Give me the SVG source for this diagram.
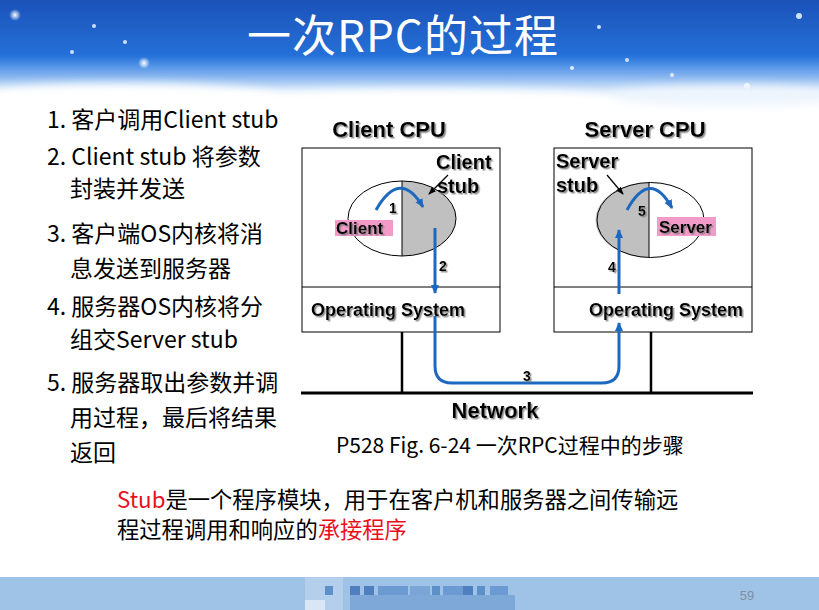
<svg xmlns="http://www.w3.org/2000/svg" width="819" height="610" viewBox="0 0 819 610">
<defs>
<linearGradient id="sky" x1="0" y1="0" x2="0" y2="1">
<stop offset="0" stop-color="#1b52b8"/>
<stop offset="0.55" stop-color="#2470d8"/>
<stop offset="0.62" stop-color="#3f86e2"/>
<stop offset="0.75" stop-color="#7fb0ee"/>
<stop offset="0.9" stop-color="#d6e7fa"/>
<stop offset="1" stop-color="#ffffff"/>
</linearGradient>
<radialGradient id="star"><stop offset="0" stop-color="#fff"/><stop offset="1" stop-color="#fff" stop-opacity="0"/></radialGradient>
<filter id="blur" x="-20%" y="-50%" width="140%" height="200%"><feGaussianBlur stdDeviation="5"/></filter>
<filter id="sh" x="-10%" y="-20%" width="130%" height="150%"><feDropShadow dx="1.5" dy="1.5" stdDeviation="0.7" flood-color="#777" flood-opacity="0.8"/></filter>
<marker id="ab" markerWidth="10" markerHeight="10" refX="8" refY="5" orient="auto" markerUnits="userSpaceOnUse"><path d="M0,1 L9,5 L0,9 Z" fill="#1d69c0"/></marker>
<marker id="ak" markerWidth="8" markerHeight="8" refX="7" refY="4" orient="auto" markerUnits="userSpaceOnUse"><path d="M0,1 L8,4 L0,7 Z" fill="#000"/></marker>
<style>
.lbl{font-family:"Liberation Sans",Arial,sans-serif;font-weight:bold;fill:#000;filter:url(#sh)}
.cjk{font-family:"Noto Sans CJK SC","Microsoft YaHei",sans-serif;fill:#000}
.box{fill:#fff;stroke:#000;stroke-width:1}
.blue{fill:none;stroke:#1d69c0;stroke-width:3}
.wire{stroke:#000;stroke-width:2.5}
.red{fill:#e8101a}
</style>
</defs>
<rect width="819" height="610" fill="#fff"/>
<g id="header">
<rect x="0" y="0" width="819" height="100" fill="url(#sky)"/>
<ellipse cx="120" cy="98" rx="160" ry="14" fill="#fff" filter="url(#blur)"/>
<ellipse cx="420" cy="100" rx="200" ry="10" fill="#fff" filter="url(#blur)"/>
<ellipse cx="730" cy="96" rx="120" ry="10" fill="#eef5fd" filter="url(#blur)"/>
<circle cx="15" cy="15" r="6" fill="url(#star)"/>
<circle cx="144" cy="63" r="6" fill="url(#star)"/>
<circle cx="94" cy="26" r="2" fill="#cfe0ff"/>
<circle cx="125" cy="42" r="2" fill="#cfe0ff"/>
<circle cx="72" cy="52" r="2" fill="#cfe0ff"/>
<circle cx="599" cy="27" r="2" fill="#cfe0ff"/>
<circle cx="627" cy="60" r="2" fill="#cfe0ff"/>
<circle cx="572" cy="68" r="2" fill="#dfeaff"/>
<circle cx="672" cy="75" r="2" fill="#dfeaff"/>
<circle cx="799" cy="16" r="3" fill="#cfe0ff"/>
<circle cx="747" cy="86" r="3" fill="#eef5ff"/>
<text x="403" y="52" text-anchor="middle" font-family="Noto Sans CJK SC, sans-serif" font-size="44" letter-spacing="1" fill="#fff">一次RPC的过程</text>
</g>
<g id="steps" class="cjk" font-size="23">
<text x="47" y="128">1. 客户调用Client stub</text>
<text x="47" y="165">2. Client stub 将参数</text>
<text x="70" y="197">封装并发送</text>
<text x="47" y="242">3. 客户端OS内核将消</text>
<text x="70" y="277">息发送到服务器</text>
<text x="47" y="315">4. 服务器OS内核将分</text>
<text x="70" y="348">组交Server stub</text>
<text x="47" y="391">5. 服务器取出参数并调</text>
<text x="70" y="426">用过程，最后将结果</text>
<text x="70" y="461">返回</text>
</g>
<g id="client-cpu">
<text class="lbl" x="389" y="137" font-size="22" text-anchor="middle">Client CPU</text>
<rect class="box" x="302" y="148" width="198" height="184"/>
<line x1="302" y1="287" x2="500" y2="287" stroke="#000" stroke-width="1"/>
<g id="client-process">
<path d="M402,181 A54,37.5 0 0 1 402,256 Z" fill="#c0c0c0"/>
<ellipse cx="402" cy="218.5" rx="54" ry="37.5" fill="none" stroke="#000" stroke-width="1"/>
<line x1="402" y1="181" x2="402" y2="256" stroke="#000" stroke-width="1"/>
<rect x="335" y="220" width="58" height="16" fill="#f29ac8"/>
<text class="lbl" x="336" y="234" font-size="17">Client</text>
</g>
<text class="lbl" x="436" y="169" font-size="20">Client</text>
<text class="lbl" x="437" y="193" font-size="20">stub</text>
<text class="lbl" x="311" y="316" font-size="18">Operating System</text>
</g>
<g id="server-cpu">
<text class="lbl" x="645" y="137" font-size="22" text-anchor="middle">Server CPU</text>
<rect class="box" x="554" y="148" width="198" height="184"/>
<line x1="554" y1="287" x2="752" y2="287" stroke="#000" stroke-width="1"/>
<g id="server-process">
<path d="M649,182.5 A53.5,37.5 0 0 0 649,257.5 Z" fill="#c0c0c0"/>
<ellipse cx="650.5" cy="220" rx="53.5" ry="37.5" fill="none" stroke="#000" stroke-width="1"/>
<line x1="649" y1="182.5" x2="649" y2="257.5" stroke="#000" stroke-width="1"/>
<rect x="657" y="217" width="59" height="19" fill="#f29ac8"/>
<text class="lbl" x="659" y="233" font-size="17">Server</text>
</g>
<text class="lbl" x="556" y="168" font-size="20">Server</text>
<text class="lbl" x="556" y="192" font-size="20">stub</text>
<text class="lbl" x="589" y="316" font-size="18">Operating System</text>
</g>
<g id="network">
<line x1="301" y1="393" x2="753" y2="393" stroke="#000" stroke-width="3"/>
<line class="wire" x1="402" y1="332" x2="402" y2="393"/>
<line class="wire" x1="651" y1="332" x2="651" y2="393"/>
<text class="lbl" x="495" y="418" font-size="22" text-anchor="middle">Network</text>
</g>
<g id="connectors">
<path class="blue" d="M376,210 Q400,168 423,207" marker-end="url(#ab)"/>
<path class="blue" d="M435,228 V293" marker-end="url(#ab)"/>
<path class="blue" d="M435,316 V366 Q435,383 452,383 H602 Q619,383 619,366 V323" marker-end="url(#ab)"/>
<path class="blue" d="M619,294 V230" marker-end="url(#ab)"/>
<path class="blue" d="M627,210 Q650,168 672,208" marker-end="url(#ab)"/>
<line x1="448" y1="175" x2="429" y2="194" stroke="#000" stroke-width="1.2" marker-end="url(#ak)"/>
<line x1="607" y1="175" x2="623" y2="194" stroke="#000" stroke-width="1.2" marker-end="url(#ak)"/>
<text class="lbl" x="393" y="213" font-size="14" text-anchor="middle">1</text>
<text class="lbl" x="443" y="271" font-size="14" text-anchor="middle">2</text>
<text class="lbl" x="527" y="381" font-size="14" text-anchor="middle">3</text>
<text class="lbl" x="612" y="272" font-size="14" text-anchor="middle">4</text>
<text class="lbl" x="642" y="216" font-size="14" text-anchor="middle">5</text>
</g>
<text class="cjk" x="336" y="453" font-size="21">P528 Fig. 6-24 一次RPC过程中的步骤</text>
<g id="note" class="cjk" font-size="22.3">
<text x="117" y="508"><tspan class="red">Stub</tspan>是一个程序模块，用于在客户机和服务器之间传输远</text>
<text x="117" y="538">程过程调用和响应的<tspan class="red">承接程序</tspan></text>
</g>
<g id="footer">
<rect x="0" y="577" width="819" height="33" fill="#9fc3e6"/>
<rect x="305" y="577" width="38" height="33" fill="#b4cfeb"/>
<rect x="305" y="600" width="20" height="10" fill="#d9e6f4"/>
<rect x="325" y="586" width="8" height="9" fill="#5d8fc8"/>
<rect x="350" y="586" width="10" height="9" fill="#4f7fbf"/>
<rect x="350" y="595" width="165" height="15" fill="#7ea8d8"/>
<rect x="364" y="586" width="10" height="9" fill="#4f7fbf"/>
<rect x="378" y="586" width="30" height="9" fill="#6b9bd2"/>
<rect x="410" y="586" width="20" height="9" fill="#7aa5d6"/>
<rect x="432" y="586" width="8" height="9" fill="#5d8fc8"/>
<rect x="443" y="586" width="20" height="9" fill="#6b9bd2"/>
<rect x="463" y="586" width="10" height="9" fill="#4f7fbf"/>
<rect x="477" y="586" width="8" height="9" fill="#5d8fc8"/>
<rect x="490" y="586" width="18" height="9" fill="#6b9bd2"/>
<text x="747" y="600" font-family="Liberation Sans, Arial, sans-serif" font-size="13" fill="#7f8ea3" text-anchor="middle">59</text>
</g>
</svg>
